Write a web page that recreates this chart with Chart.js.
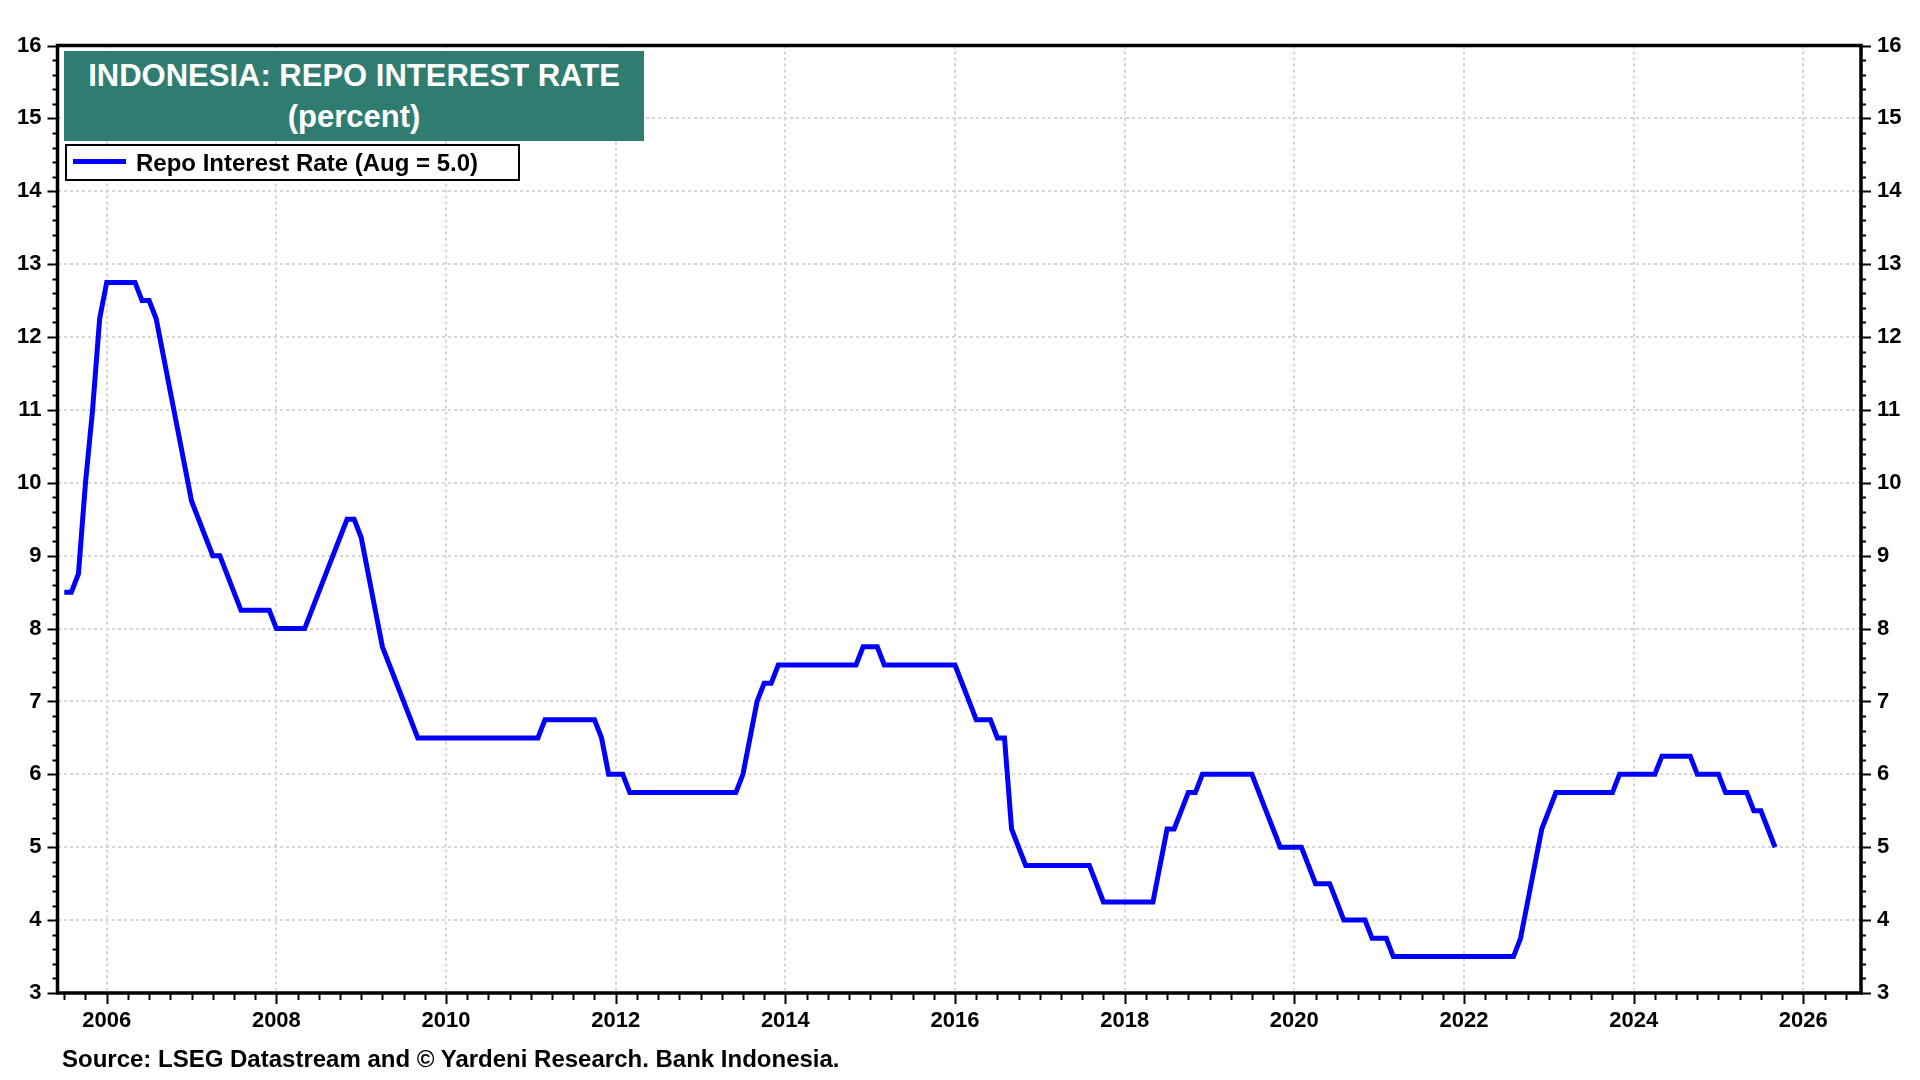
<!DOCTYPE html>
<html>
<head>
<meta charset="utf-8">
<script src="https://cdn.jsdelivr.net/npm/chart.js@4.4.1/dist/chart.umd.min.js"></script>
<style>
  html, body { margin: 0; padding: 0; background: #fff; }
  #wrap { position: relative; width: 1920px; height: 1080px; overflow: hidden; }
  #chart { position: absolute; left: 0; top: 0; }
  .title {
    position: absolute; left: 64px; top: 51px; width: 580px; height: 90px;
    box-sizing: border-box; padding-top: 4px;
    background: #2e7d70; color: #fff; text-align: center;
    font: bold 31px "Liberation Sans", Arial, sans-serif; line-height: 41px;
  }
  .legend {
    position: absolute; left: 65px; top: 144px; width: 455px; height: 37px;
    box-sizing: border-box; border: 2px solid #000; background: #fff;
    font: bold 24px "Liberation Sans", Arial, sans-serif; color: #000;
  }
  .legend .swatch { position: absolute; left: 6px; top: 13px; width: 53px; height: 5px; background: #0000ff; }
  .legend .label { position: absolute; left: 69px; top: 0; line-height: 33px; white-space: nowrap; }
  .source {
    position: absolute; left: 62px; top: 1046px; white-space: nowrap;
    font: bold 24px "Liberation Sans", Arial, sans-serif; line-height: 26px; color: #000;
  }
</style>
</head>
<body>
<div id="wrap">
  <canvas id="chart" width="1920" height="1080"></canvas>
  <div class="title">INDONESIA: REPO INTEREST RATE<br>(percent)</div>
  <div class="legend"><div class="swatch"></div><div class="label">Repo Interest Rate (Aug = 5.0)</div></div>
  <div class="source">Source: LSEG Datastream and © Yardeni Research. Bank Indonesia.</div>
</div>
<script>
// monthly, end of month, starting June 2005
const firstYear = 2005;
const firstMonth = 6;
const repoRate = [
  8.50, 8.50, 8.75, 10.00, 11.00, 12.25, 12.75,                          // 2005 Jun-Dec
  12.75, 12.75, 12.75, 12.75, 12.50, 12.50, 12.25, 11.75, 11.25, 10.75, 10.25, 9.75, // 2006
  9.50, 9.25, 9.00, 9.00, 8.75, 8.50, 8.25, 8.25, 8.25, 8.25, 8.25, 8.00, // 2007
  8.00, 8.00, 8.00, 8.00, 8.25, 8.50, 8.75, 9.00, 9.25, 9.50, 9.50, 9.25, // 2008
  8.75, 8.25, 7.75, 7.50, 7.25, 7.00, 6.75, 6.50, 6.50, 6.50, 6.50, 6.50, // 2009
  6.50, 6.50, 6.50, 6.50, 6.50, 6.50, 6.50, 6.50, 6.50, 6.50, 6.50, 6.50, // 2010
  6.50, 6.75, 6.75, 6.75, 6.75, 6.75, 6.75, 6.75, 6.75, 6.50, 6.00, 6.00, // 2011
  6.00, 5.75, 5.75, 5.75, 5.75, 5.75, 5.75, 5.75, 5.75, 5.75, 5.75, 5.75, // 2012
  5.75, 5.75, 5.75, 5.75, 5.75, 6.00, 6.50, 7.00, 7.25, 7.25, 7.50, 7.50, // 2013
  7.50, 7.50, 7.50, 7.50, 7.50, 7.50, 7.50, 7.50, 7.50, 7.50, 7.75, 7.75, // 2014
  7.75, 7.50, 7.50, 7.50, 7.50, 7.50, 7.50, 7.50, 7.50, 7.50, 7.50, 7.50, // 2015
  7.25, 7.00, 6.75, 6.75, 6.75, 6.50, 6.50, 5.25, 5.00, 4.75, 4.75, 4.75, // 2016
  4.75, 4.75, 4.75, 4.75, 4.75, 4.75, 4.75, 4.50, 4.25, 4.25, 4.25, 4.25, // 2017
  4.25, 4.25, 4.25, 4.25, 4.75, 5.25, 5.25, 5.50, 5.75, 5.75, 6.00, 6.00, // 2018
  6.00, 6.00, 6.00, 6.00, 6.00, 6.00, 5.75, 5.50, 5.25, 5.00, 5.00, 5.00, // 2019
  5.00, 4.75, 4.50, 4.50, 4.50, 4.25, 4.00, 4.00, 4.00, 4.00, 3.75, 3.75, // 2020
  3.75, 3.50, 3.50, 3.50, 3.50, 3.50, 3.50, 3.50, 3.50, 3.50, 3.50, 3.50, // 2021
  3.50, 3.50, 3.50, 3.50, 3.50, 3.50, 3.50, 3.75, 4.25, 4.75, 5.25, 5.50, // 2022
  5.75, 5.75, 5.75, 5.75, 5.75, 5.75, 5.75, 5.75, 5.75, 6.00, 6.00, 6.00, // 2023
  6.00, 6.00, 6.00, 6.25, 6.25, 6.25, 6.25, 6.25, 6.00, 6.00, 6.00, 6.00, // 2024
  5.75, 5.75, 5.75, 5.75, 5.50, 5.50, 5.25, 5.00                          // 2025 Jan-Aug
];
const yearTicks = [2006, 2008, 2010, 2012, 2014, 2016, 2018, 2020, 2022, 2024, 2026];
const rateTicks = [3, 4, 5, 6, 7, 8, 9, 10, 11, 12, 13, 14, 15, 16];

// month end as a decimal year
const points = repoRate.map((v, i) => ({ x: firstYear + (firstMonth + i) / 12, y: v }));

const labelFont = { family: 'Liberation Sans, Arial, sans-serif', size: 22, weight: 'bold' };

const frameTicks = {
  id: 'frameTicks',
  afterDraw(chart) {
    const { ctx, chartArea: a, scales } = chart;
    ctx.save();
    ctx.strokeStyle = '#000';
    ctx.lineWidth = 2;
    ctx.beginPath();
    for (let k = 0; k <= 65; k++) {
      const py = Math.round(scales.y.getPixelForValue(3 + k * 0.2)) + 0.5;
      const len = k % 5 === 0 ? 10 : 5;
      ctx.moveTo(a.left - len, py); ctx.lineTo(a.left, py);
      ctx.moveTo(a.right, py); ctx.lineTo(a.right + len, py);
    }
    const x = scales.x;
    for (let q = Math.ceil(x.min * 4); q <= Math.floor(x.max * 4); q++) {
      const v = q / 4;
      const px = Math.round(x.getPixelForValue(v)) + 0.5;
      const len = (v % 2 === 0) ? 11 : 7;
      ctx.moveTo(px, a.bottom); ctx.lineTo(px, a.bottom + len);
    }
    ctx.stroke();
    ctx.lineWidth = 3.5;
    ctx.strokeRect(a.left, a.top, a.right - a.left, a.bottom - a.top);
    ctx.restore();
  }
};

new Chart(document.getElementById('chart').getContext('2d'), {
  type: 'line',
  data: {
    datasets: [{
      label: 'Repo Interest Rate (Aug = 5.0)',
      data: points,
      borderColor: '#0000ff',
      borderWidth: 5,
      pointRadius: 0,
      tension: 0,
      fill: false
    }]
  },
  options: {
    responsive: false,
    animation: false,
    layout: { padding: { top: 45.5, left: 0, right: 0, bottom: 0 } },
    plugins: { legend: { display: false }, tooltip: { enabled: false } },
    scales: {
      x: {
        type: 'linear',
        min: 2005.42,
        max: 2026.68,
        afterBuildTicks: s => { s.ticks = yearTicks.map(v => ({ value: v })); },
        afterFit: s => { s.height = 87; },
        grid: { color: '#d6d6d6', lineWidth: 2, drawTicks: false },
        border: { display: false, dash: [3, 3] },
        ticks: {
          callback: v => String(v),
          font: labelFont, color: '#000', padding: 15, maxRotation: 0, autoSkip: false
        }
      },
      y: {
        position: 'left',
        min: 3, max: 16,
        afterBuildTicks: s => { s.ticks = rateTicks.map(v => ({ value: v })); },
        afterFit: s => { s.width = 57.5; },
        grid: { color: '#d6d6d6', lineWidth: 2, drawTicks: false },
        border: { display: false, dash: [3, 3] },
        ticks: { font: labelFont, color: '#000', padding: 16 }
      },
      y2: {
        position: 'right',
        min: 3, max: 16,
        afterBuildTicks: s => { s.ticks = rateTicks.map(v => ({ value: v })); },
        afterFit: s => { s.width = 59; },
        grid: { display: false, drawTicks: false },
        border: { display: false },
        ticks: { font: labelFont, color: '#000', padding: 16 }
      }
    }
  },
  plugins: [frameTicks]
});
</script>
</body>
</html>
